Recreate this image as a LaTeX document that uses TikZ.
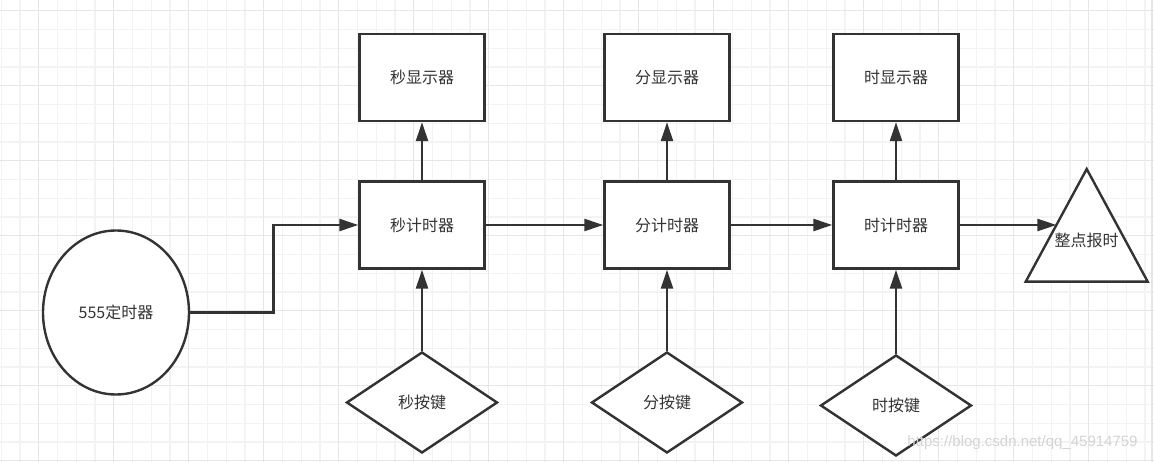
\documentclass[tikz,border=0pt]{standalone}
\usepackage{fontspec}
\setmainfont{Noto Sans CJK SC}
\newfontfamily\wmfont{Liberation Sans}
\usetikzlibrary{shapes.geometric,arrows.meta}
\definecolor{linec}{HTML}{333333}
\definecolor{minorc}{HTML}{F3F3F3}
\definecolor{majorc}{HTML}{E6E6E6}
\definecolor{wmc}{HTML}{D4D4D4}
\begin{document}
\begin{tikzpicture}[x=1pt,y=-1pt,
  lbl/.style={text=linec,font=\fontsize{16pt}{19pt}\selectfont},
  box/.style={lbl,draw=linec,line width=2.4pt,fill=white,minimum width=125pt,minimum height=87pt,inner sep=0pt},
  keyd/.style={lbl,diamond,draw=linec,line width=2.4pt,fill=white,minimum width=151pt,minimum height=101pt,inner sep=0pt,aspect=1.5},
  oval/.style={lbl,ellipse,draw=linec,line width=2.4pt,fill=white,minimum width=146pt,minimum height=164pt,inner sep=0pt},
  arr/.style={draw=linec,line width=2.4pt,-{Triangle[length=19pt,width=12pt]}},
  minorl/.style={draw=minorc,line width=1.3pt},
  majorl/.style={draw=majorc,line width=1.3pt}
]
\useasboundingbox (0,0) rectangle (1154,462);
\fill[white] (0,0) rectangle (1154,462);
% grid
\foreach \i in {0,...,61} {
  \pgfmathsetmacro\xx{1.2+18.75*\i}
  \draw[minorl] (\xx,0) -- (\xx,462);
}
\foreach \j in {0,...,24} {
  \pgfmathsetmacro\yy{10.7+18.75*\j}
  \draw[minorl] (0,\yy) -- (1154,\yy);
}
\foreach \i in {0,...,15} {
  \pgfmathsetmacro\xx{38.7+75*\i}
  \draw[majorl] (\xx,0) -- (\xx,462);
}
\foreach \j in {0,...,6} {
  \pgfmathsetmacro\yy{10.7+75*\j}
  \draw[majorl] (0,\yy) -- (1154,\yy);
}
\draw[majorl] (1152,0) -- (1152,462);
\draw[majorl] (0,460.5) -- (1154,460.5);

% nodes
\node[oval] (t) at (116,312.5) {555定时器};
\node[box] (sc) at (422,225) {秒计时器};
\node[box] (sd) at (422,77.5) {秒显示器};
\node[keyd] (sk) at (422,402.5) {秒按键};
\node[box] (mc) at (667,225) {分计时器};
\node[box] (md) at (667,77.5) {分显示器};
\node[keyd] (mk) at (667,402.5) {分按键};
\node[box] (hc) at (896,225) {时计时器};
\node[box] (hd) at (896,77.5) {时显示器};
\node[keyd] (hk) at (896,405.5) {时按键};

% triangle
\coordinate (ta) at (1086.7,169);
\coordinate (tl) at (1025.7,281.7);
\coordinate (tr) at (1147.7,281.7);
\draw[draw=linec,line width=2.4pt,fill=white,line join=miter] (ta) -- (tl) -- (tr) -- cycle;
\node[lbl] (bell) at (1086.7,240) {整点报时};
\coordinate (tin) at (1056.4,225);

% connectors
\coordinate (k1) at (273.3,270);
\draw[arr] (t.east) -| (k1) |- (sc.west);
\draw[arr] (sc.east) -- (mc.west);
\draw[arr] (mc.east) -- (hc.west);
\draw[arr] (hc.east) -- (tin);
\draw[arr] (sc.north) -- (sd.south);
\draw[arr] (mc.north) -- (md.south);
\draw[arr] (hc.north) -- (hd.south);
\draw[arr] (sk.north) -- (sc.south);
\draw[arr] (mk.north) -- (mc.south);
\draw[arr] (hk.north) -- (hc.south);

% watermark
\node[text=wmc,font=\wmfont\fontsize{15pt}{18pt}\selectfont,inner sep=0pt] (wm) at (1022.5,443) {https://blog.csdn.net/qq\_45914759};
\end{tikzpicture}
\end{document}
